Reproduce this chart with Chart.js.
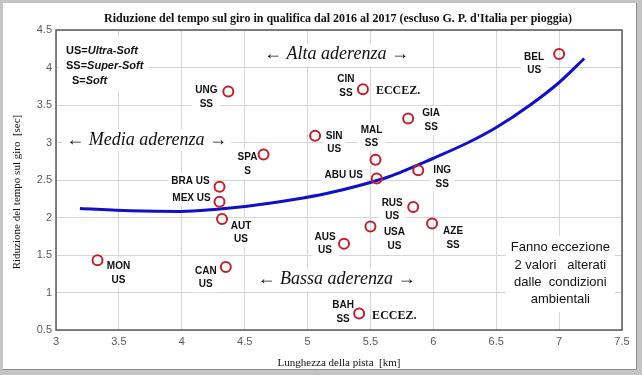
<!DOCTYPE html>
<html lang="it">
<head>
<meta charset="utf-8">
<title>Riduzione del tempo sul giro</title>
<script src="https://cdn.jsdelivr.net/npm/chart.js@4.4.1/dist/chart.umd.min.js"></script>
<style>
  html, body { margin: 0; padding: 0; background: #fff; }
  #contenitore { position: relative; width: 642px; height: 375px; }
</style>
</head>
<body>
<div id="contenitore">
  <canvas id="grafico" width="642" height="375"></canvas>
</div>
<script>
// ── Dati ──
const circuiti  = ["UNG", "SIN", "SPA", "BRA", "MEX", "AUT", "MON", "CAN", "AUS", "BAH",
                   "USA", "RUS", "AZE", "BEL", "CIN", "GIA", "MAL", "ABU", "ING"];
const gomme     = ["SS", "US", "S", "US", "US", "US", "US", "US", "US", "SS",
                   "US", "US", "SS", "US", "SS", "SS", "SS", "US", "SS"];
// lunghezza della pista [km]
const lunghezza = [4.37, 5.06, 4.65, 4.30, 4.30, 4.32, 3.33, 4.35, 5.29, 5.41,
                   5.50, 5.84, 5.99, 7.00, 5.44, 5.80, 5.54, 5.55, 5.88];
// riduzione del tempo sul giro [sec]
const riduzione = [3.68, 3.09, 2.84, 2.41, 2.21, 1.98, 1.43, 1.34, 1.65, 0.72,
                   1.88, 2.14, 1.92, 4.18, 3.71, 3.32, 2.77, 2.52, 2.63];

const curvaX = [3.19, 3.59, 3.99, 4.28, 4.52, 4.89, 5.15, 5.42, 5.64, 6.00, 6.29, 6.50, 6.77, 7.00, 7.20];
const curvaY = [2.12, 2.09, 2.08, 2.11, 2.15, 2.24, 2.32, 2.43, 2.54, 2.79, 3.01, 3.20, 3.50, 3.80, 4.12];

// tick degli assi
const tickX = [3, 3.5, 4, 4.5, 5, 5.5, 6, 6.5, 7, 7.5];
const tickY = [0.5, 1, 1.5, 2, 2.5, 3, 3.5, 4, 4.5];

// circuiti con valori alterati
const eccezioni = ["CIN", "BAH"];

// ── Posizione delle etichette rispetto al punto (px) ──
// dx, dy = centro della prima riga; una = etichetta su una sola riga
const POS_ETICHETTE = {
  UNG: { dx: -22, dy: -1 },
  SIN: { dx:  19, dy:  0 },
  SPA: { dx: -16, dy:  3 },
  BRA: { dx: -29, dy: -6, una: true },
  MEX: { dx: -28, dy: -4, una: true },
  AUT: { dx:  19, dy:  7 },
  MON: { dx:  21, dy:  6 },
  CAN: { dx: -20, dy:  4 },
  AUS: { dx: -19, dy: -7 },
  BAH: { dx: -16, dy: -8 },
  USA: { dx:  24, dy:  6 },
  RUS: { dx: -21, dy: -4 },
  AZE: { dx:  21, dy:  8 },
  BEL: { dx: -25, dy:  3 },
  CIN: { dx: -17, dy: -10 },
  GIA: { dx:  23, dy: -5 },
  MAL: { dx:  -4, dy: -30 },
  ABU: { dx: -33, dy: -3, una: true },
  ING: { dx:  24, dy:  0 },
};

const FONT_SANS  = "'Liberation Sans', Arial, sans-serif";
const FONT_SERIF = "'Liberation Serif', 'Times New Roman', serif";

// scritte sul grafico, in coordinate dei dati
const SCRITTE = [
  { testo: "\u2190 Alta aderenza \u2192",  x: 5.23, y: 4.17 },
  { testo: "\u2190 Media aderenza \u2192", x: 3.72, y: 3.03 },
  { testo: "\u2190 Bassa aderenza \u2192", x: 5.23, y: 1.17 },
];

const NOTA = ["Fanno eccezione", "2 valori   alterati", "dalle  condizioni", "ambientali"];


// ================================================================
// UTILITÀ DI DISEGNO
// ================================================================

// riquadro bianco che copre la griglia dietro al testo
function sfondoBianco(ctx, cx, cy, w, h) {
  ctx.fillStyle = "#fff";
  ctx.fillRect(cx - w / 2, cy - h / 2, w, h);
}

function disegnaEtichetta(ctx, righe, cx, cy, passo) {
  ctx.font = "bold 10px " + FONT_SANS;
  const w = Math.max(...righe.map(r => ctx.measureText(r).width));
  const h = passo * righe.length;
  sfondoBianco(ctx, cx, cy + (righe.length - 1) * passo / 2, w + 6, h + 2);
  ctx.fillStyle = "#111";
  ctx.textAlign = "center";
  ctx.textBaseline = "middle";
  righe.forEach((r, i) => ctx.fillText(r, cx, cy + i * passo));
}


// ================================================================
// PLUGIN: cornice, titoli, etichette, scritte
// ================================================================

const pluginDecorazioni = {
  id: "decorazioni",

  beforeDraw(chart) {
    const ctx = chart.ctx;
    const W = chart.width, H = chart.height;
    ctx.save();
    // cornice esterna grigia
    ctx.fillStyle = "#c4c4c4";
    ctx.fillRect(0, 0, W, H);
    ctx.fillStyle = "#fff";
    ctx.fillRect(3, 3, W - 8, H - 8);
    ctx.strokeStyle = "#8a8a8a";
    ctx.lineWidth = 1;
    ctx.beginPath();
    ctx.moveTo(3, H - 5.5); ctx.lineTo(W - 5.5, H - 5.5); ctx.lineTo(W - 5.5, 3);
    ctx.stroke();
    ctx.restore();
  },

  beforeDatasetsDraw(chart) {
    const ctx = chart.ctx;
    const sx = chart.scales.x, sy = chart.scales.y;
    const area = chart.chartArea;
    ctx.save();

    // legenda mescole
    sfondoBianco(ctx, area.left + 48, area.top + 34, 90, 54);
    const legenda = [["US=", "Ultra-Soft", 66, 51], ["SS=", "Super-Soft", 66, 66], ["S=", "Soft", 72, 81]];
    ctx.fillStyle = "#111";
    ctx.textAlign = "left";
    ctx.textBaseline = "middle";
    legenda.forEach(([a, b, x, y]) => {
      ctx.font = "bold 11px " + FONT_SANS;
      ctx.fillText(a, x, y);
      const wa = ctx.measureText(a).width;
      ctx.font = "italic bold 11px " + FONT_SANS;
      ctx.fillText(b, x + wa, y);
    });

    // scritte aderenza
    ctx.font = "italic 18px " + FONT_SERIF;
    SCRITTE.forEach(s => {
      const cx = sx.getPixelForValue(s.x), cy = sy.getPixelForValue(s.y);
      const w = ctx.measureText(s.testo).width;
      sfondoBianco(ctx, cx, cy, w + 8, 22);
      ctx.fillStyle = "#111";
      ctx.textAlign = "center";
      ctx.fillText(s.testo, cx, cy);
    });

    // nota in basso a destra
    const nx = sx.getPixelForValue(7.01), ny = sy.getPixelForValue(1.25);
    ctx.font = "13px " + FONT_SANS;
    const wn = Math.max(...NOTA.map(r => ctx.measureText(r).width));
    sfondoBianco(ctx, nx, ny, wn + 10, 76);
    ctx.fillStyle = "#111";
    ctx.textAlign = "center";
    NOTA.forEach((r, i) => ctx.fillText(r, nx, ny - 26 + i * 17.3));

    // etichette dei circuiti
    circuiti.forEach((nome, i) => {
      const p = POS_ETICHETTE[nome];
      const px = sx.getPixelForValue(lunghezza[i]);
      const py = sy.getPixelForValue(riduzione[i]);
      const righe = p.una ? [nome + " " + gomme[i]] : [nome, gomme[i]];
      disegnaEtichetta(ctx, righe, px + p.dx, py + p.dy, 13.5);

      if (eccezioni.includes(nome)) {
        ctx.font = "bold 12px " + FONT_SERIF;
        ctx.fillStyle = "#111";
        ctx.textAlign = "left";
        ctx.fillText("ECCEZ.", px + 13, py + 2);
      }
    });

    ctx.restore();
  },

  afterDatasetsDraw(chart) {
    const ctx = chart.ctx;
    const a = chart.chartArea;
    ctx.save();
    ctx.strokeStyle = "#5a5a5a";
    ctx.lineWidth = 1.5;
    ctx.strokeRect(a.left, a.top, a.right - a.left, a.bottom - a.top);
    ctx.restore();
  },

  afterDraw(chart) {
    const ctx = chart.ctx;
    const a = chart.chartArea;
    ctx.save();
    ctx.fillStyle = "#111";
    ctx.textAlign = "center";
    ctx.textBaseline = "middle";

    // titolo
    ctx.font = "bold 12px " + FONT_SERIF;
    ctx.fillText("Riduzione del tempo sul giro in qualifica dal 2016 al 2017 (escluso G. P. d'Italia per pioggia)", 338, 19);

    // titolo asse x
    ctx.font = "11px " + FONT_SERIF;
    ctx.fillText("Lunghezza della pista  [km]", (a.left + a.right) / 2, 363);

    // titolo asse y
    ctx.translate(17, 192);
    ctx.rotate(-Math.PI / 2);
    ctx.fillText("Riduzione del tempo sul giro  [sec]", 0, 0);
    ctx.restore();
  }
};


// ================================================================
// GRAFICO
// ================================================================

const puntiCircuiti = lunghezza.map((x, i) => ({ x: x, y: riduzione[i] }));
const puntiCurva    = curvaX.map((x, i) => ({ x: x, y: curvaY[i] }));

new Chart(document.getElementById("grafico"), {
  type: "scatter",
  data: {
    datasets: [
      {
        label: "Circuiti",
        data: puntiCircuiti,
        pointRadius: 5,
        pointBorderWidth: 2,
        pointBorderColor: "#c0202a",
        pointBackgroundColor: "rgba(255,255,255,0)",
        order: 1,
      },
      {
        label: "Tendenza",
        data: puntiCurva,
        showLine: true,
        pointRadius: 0,
        borderColor: "#1010c8",
        borderWidth: 3,
        cubicInterpolationMode: "monotone",
        order: 2,
      }
    ]
  },
  options: {
    responsive: false,
    animation: false,
    events: [],
    layout: { padding: { top: 30, right: 20, left: 0, bottom: 0 } },
    plugins: {
      legend: { display: false },
      tooltip: { enabled: false },
      title: { display: false },
    },
    scales: {
      x: {
        type: "linear",
        min: tickX[0],
        max: tickX[tickX.length - 1],
        afterBuildTicks: scala => { scala.ticks = tickX.map(v => ({ value: v })); },
        afterFit: scala => { scala.height = 45; },
        grid: { color: "#d6d6d6", lineWidth: 1, drawTicks: false },
        border: { display: false },
        ticks: {
          color: "#5a5a5a", font: { family: FONT_SANS, size: 11 }, padding: 5, maxRotation: 0,
          callback: v => String(v),
        },
      },
      y: {
        type: "linear",
        min: tickY[0],
        max: tickY[tickY.length - 1],
        afterBuildTicks: scala => { scala.ticks = tickY.map(v => ({ value: v })); },
        afterFit: scala => { scala.width = 56; },
        grid: { color: "#d6d6d6", lineWidth: 1, drawTicks: false },
        border: { display: false },
        ticks: {
          color: "#5a5a5a", font: { family: FONT_SANS, size: 11 }, padding: 4,
          callback: v => String(v),
        },
      }
    }
  },
  plugins: [pluginDecorazioni]
});
</script>
</body>
</html>
